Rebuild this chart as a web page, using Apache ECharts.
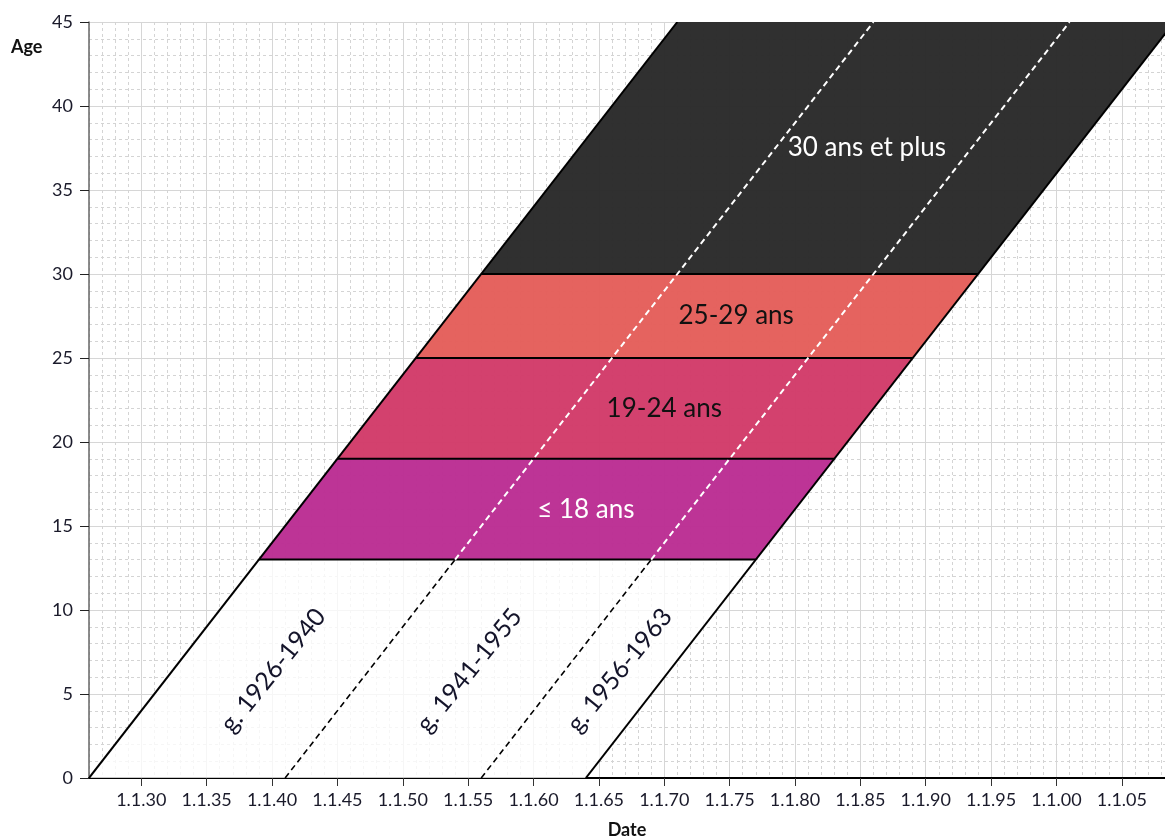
<!DOCTYPE html>
<html>
<head>
<meta charset="utf-8">
<script src="https://cdn.jsdelivr.net/npm/echarts@6/dist/echarts.min.js"></script>
<style>
html,body{margin:0;padding:0;background:#fff;}
#chart{width:1165px;height:838px;}
</style>
</head>
<body>
<div id="chart"></div>
<script>
// ---- data ----
const cohortBounds = [1926, 1941, 1956, 1964];          // birth-year boundaries of cohorts
const cohortLabels = ['g. 1926-1940', 'g. 1941-1955', 'g. 1956-1963'];
const bandLow  = [0, 13, 19, 25, 30];                    // age bands (lower bound)
const bandHigh = [13, 19, 25, 30, 45];                   // age bands (upper bound)
const bandLabels = ['', '≤ 18 ans', '19-24 ans', '25-29 ans', '30 ans et plus'];
const xTickValues = [1930, 1935, 1940, 1945, 1950, 1955, 1960, 1965, 1970, 1975, 1980, 1985, 1990, 1995, 2000, 2005];
const xTickLabels = ['1.1.30', '1.1.35', '1.1.40', '1.1.45', '1.1.50', '1.1.55', '1.1.60', '1.1.65', '1.1.70', '1.1.75', '1.1.80', '1.1.85', '1.1.90', '1.1.95', '1.1.00', '1.1.05'];
const ageMax = 45;

// ---- styles ----
const FONT = 'Lato, "Open Sans", sans-serif';
const bandFill = ['rgba(255,255,255,0.78)', 'rgba(186,44,146,0.96)', 'rgba(209,57,104,0.96)', 'rgba(228,93,88,0.96)', 'rgba(40,40,40,0.96)'];
const bandText = ['#000', '#ffffff', '#111111', '#111111', '#ffffff'];
const MINOR = '#d4d4d4', MAJOR = '#d6d6d6', T = 'rgba(0,0,0,0)';

const first = cohortBounds[0], last = cohortBounds[cohortBounds.length - 1];
const threshold = bandLow[1];

// line segments (built from the data arrays)
const segments = [];
bandLow.slice(1).forEach(a => segments.push({p: [[first + a, a], [last + a, a]], color: '#000', width: 2, dash: null}));
cohortBounds.forEach((b, i) => {
  const outer = (i === 0 || i === cohortBounds.length - 1);
  if (outer) {
    segments.push({p: [[b, 0], [b + ageMax, ageMax]], color: '#000', width: 2, dash: null});
  } else {
    segments.push({p: [[b, 0], [b + threshold, threshold]], color: '#000', width: 1.6, dash: [6, 4]});
    segments.push({p: [[b + threshold, threshold], [b + ageMax, ageMax]], color: '#fff', width: 2, dash: [6, 4]});
  }
});

const chart = echarts.init(document.getElementById('chart'), null, {renderer: 'canvas'});
const baseX = {type: 'value', min: 1926, max: 2008.3, interval: 1, gridIndex: 0};

chart.setOption({
  animation: false,
  backgroundColor: '#fff',
  grid: {left: 89, top: 22, right: 0, bottom: 60, containLabel: false, outerBoundsMode: 'none'},
  xAxis: [
    Object.assign({}, baseX, {
      position: 'bottom',
      name: 'Date', nameLocation: 'middle', nameGap: 43,
      nameTextStyle: {fontFamily: FONT, fontWeight: 'bold', fontSize: 18, color: '#111'},
      axisLine: {show: true, onZero: false, lineStyle: {color: '#000', width: 2}},
      axisTick: {show: true, customValues: xTickValues, length: 8, lineStyle: {color: '#333', width: 1}},
      axisLabel: {show: true, customValues: xTickValues, margin: 13, fontFamily: FONT, fontSize: 18, color: '#1a1a2a',
        formatter: v => { const k = xTickValues.indexOf(Math.round(v)); return k >= 0 && Math.abs(v - Math.round(v)) < 1e-6 ? xTickLabels[k] : ''; }},
      splitLine: {show: false}
    }),
    Object.assign({}, baseX, {
      position: 'top', axisLine: {show: false}, axisTick: {show: false}, axisLabel: {show: false},
      splitLine: {show: true, lineStyle: {color: [MINOR, MINOR, MINOR, MINOR, T], type: [3, 3], width: 1}}
    }),
    Object.assign({}, baseX, {
      position: 'top', axisLine: {show: false}, axisTick: {show: false}, axisLabel: {show: false},
      splitLine: {show: true, lineStyle: {color: [T, T, T, T, MAJOR], type: 'solid', width: 1}}
    })
  ],
  yAxis: {
    type: 'value', min: 0, max: ageMax, interval: 5,
    axisLine: {show: true, onZero: false, lineStyle: {color: '#666', width: 1.5}},
    axisTick: {show: true, length: 9, lineStyle: {color: '#222', width: 1}},
    axisLabel: {margin: 16, fontFamily: FONT, fontSize: 18, color: '#1a1a2a'},
    splitLine: {show: true, lineStyle: {color: MAJOR, width: 1}},
    minorTick: {show: false, splitNumber: 5},
    minorSplitLine: {show: true, lineStyle: {color: MINOR, type: [3, 3], width: 1}}
  },
  graphic: [{type: 'text', left: 11, top: 38, style: {text: 'Age', font: 'bold 18px ' + FONT, fill: '#111'}}],
  series: [
    {
      type: 'custom', xAxisIndex: 0, yAxisIndex: 0, clip: true, silent: true, z: 2,
      data: bandLow.map((a, i) => [first + a, a]),
      renderItem: (params, api) => {
        const i = params.dataIndex, a = bandLow[i], b = bandHigh[i];
        const pts = [[first + a, a], [last + a, a], [last + b, b], [first + b, b]].map(p => api.coord(p));
        return {type: 'polygon', shape: {points: pts}, style: {fill: bandFill[i], stroke: null}};
      }
    },
    {
      type: 'custom', xAxisIndex: 0, yAxisIndex: 0, clip: true, silent: true, z: 3,
      data: segments.map(s => s.p[0]),
      renderItem: (params, api) => {
        const s = segments[params.dataIndex];
        const p0 = api.coord(s.p[0]), p1 = api.coord(s.p[1]);
        return {type: 'line', shape: {x1: p0[0], y1: p0[1], x2: p1[0], y2: p1[1]},
          style: {stroke: s.color, lineWidth: s.width, lineDash: s.dash, fill: null}};
      }
    },
    {
      type: 'custom', xAxisIndex: 0, yAxisIndex: 0, clip: false, silent: true, z: 4,
      data: bandLabels.map((t, i) => [i]),
      renderItem: (params, api) => {
        const i = params.dataIndex;
        if (!bandLabels[i]) return null;
        const mid = (bandLow[i] + bandHigh[i]) / 2;
        const p = api.coord([(first + last) / 2 + 3 + mid, mid]);
        return {type: 'text', x: p[0], y: p[1],
          style: {text: bandLabels[i], x: 0, y: 0, align: 'center', verticalAlign: 'middle', font: '26px ' + FONT, fill: bandText[i]}};
      }
    },
    {
      type: 'custom', xAxisIndex: 0, yAxisIndex: 0, clip: false, silent: true, z: 4,
      data: cohortLabels.map((t, i) => [i]),
      renderItem: (params, api) => {
        const i = params.dataIndex;
        const age = 6.4;
        const p = api.coord([(cohortBounds[i] + cohortBounds[i + 1]) / 2 + age + 0.2, age]);
        return {type: 'text', x: p[0], y: p[1], rotation: 51 * Math.PI / 180,
          style: {text: cohortLabels[i], x: 0, y: 0, align: 'center', verticalAlign: 'middle', font: '25px ' + FONT, fill: '#14142a'}};
      }
    }
  ]
});
</script>
</body>
</html>
